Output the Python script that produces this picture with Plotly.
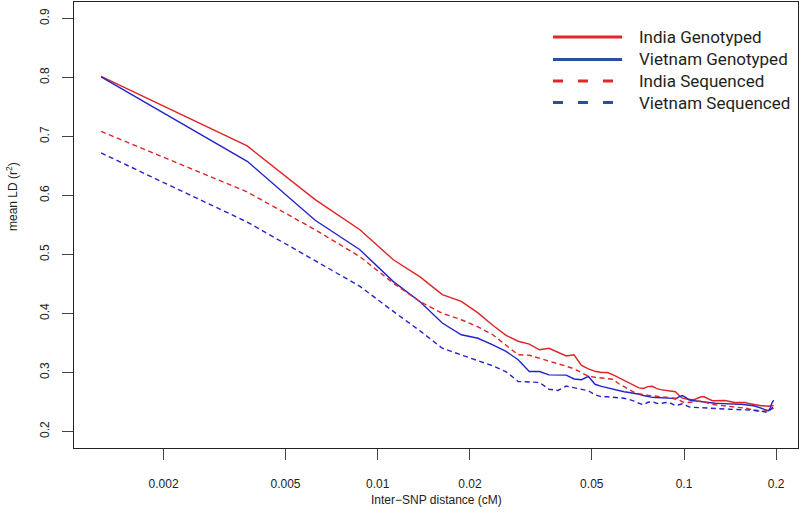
import plotly.graph_objects as go

# Inter-SNP distance bins (cM), bin midpoints
x_cM = [0.00125, 0.00375, 0.00625, 0.00875, 0.01125, 0.01375, 0.01625, 0.01875, 0.02125, 0.02375,
        0.02625, 0.02875, 0.03125, 0.03375, 0.03625, 0.03875, 0.04125, 0.04375, 0.04625, 0.04875,
        0.05125, 0.05375, 0.05625, 0.05875, 0.06125, 0.06375, 0.06625, 0.06875, 0.07125, 0.07375,
        0.07625, 0.07875, 0.08125, 0.08375, 0.08625, 0.08875, 0.09125, 0.09375, 0.09625, 0.09875,
        0.10125, 0.10375, 0.10625, 0.10875, 0.11125, 0.11375, 0.11625, 0.11875, 0.12125, 0.12375,
        0.12625, 0.12875, 0.13125, 0.13375, 0.13625, 0.13875, 0.14125, 0.14375, 0.14625, 0.14875,
        0.15125, 0.15375, 0.15625, 0.15875, 0.16125, 0.16375, 0.16625, 0.16875, 0.17125, 0.17375,
        0.17625, 0.17875, 0.18125, 0.18375, 0.18625, 0.18875, 0.19125, 0.19375, 0.19625]

india_genotyped = [0.802, 0.684, 0.593, 0.542, 0.491, 0.462, 0.432, 0.4205, 0.401, 0.380,
                   0.363, 0.353, 0.348, 0.3385, 0.341, 0.334, 0.328, 0.330, 0.312, 0.306,
                   0.302, 0.300, 0.300, 0.296, 0.291, 0.287, 0.2826, 0.2775, 0.274, 0.273,
                   0.276, 0.2766, 0.273, 0.271, 0.270, 0.269, 0.268, 0.2673, 0.2614, 0.2565,
                   0.2555, 0.2546, 0.2538, 0.2546, 0.2563, 0.2588, 0.2588, 0.2563, 0.2538, 0.2521,
                   0.2521, 0.2524, 0.2527, 0.2526, 0.2526, 0.2516, 0.2504, 0.2492, 0.2492, 0.2492,
                   0.2492, 0.2492, 0.2492, 0.2490, 0.2478, 0.2470, 0.2461, 0.2453, 0.2453, 0.2444,
                   0.2441, 0.2436, 0.2436, 0.2431, 0.2426, 0.2428, 0.2433, 0.2436, 0.2441]

vietnam_genotyped = [0.801, 0.658, 0.558, 0.508, 0.454, 0.420, 0.3838, 0.364, 0.358, 0.347,
                     0.3357, 0.3216, 0.3017, 0.3017, 0.296, 0.296, 0.2956, 0.289, 0.2877, 0.2933,
                     0.280, 0.2765, 0.2738, 0.2716, 0.269, 0.2673, 0.266, 0.265, 0.2631, 0.261,
                     0.2592, 0.2578, 0.2577, 0.2577, 0.2571, 0.2566, 0.2561, 0.2549, 0.2588, 0.2609,
                     0.258, 0.2538, 0.2524, 0.2517, 0.2507, 0.2500, 0.2497, 0.2492, 0.2487, 0.2482,
                     0.2478, 0.2476, 0.2473, 0.2470, 0.2469, 0.2467, 0.2466, 0.2465, 0.2463, 0.2462,
                     0.2461, 0.2461, 0.2458, 0.2453, 0.2450, 0.2446, 0.2441, 0.2436, 0.2427, 0.2419,
                     0.2410, 0.2402, 0.2385, 0.2368, 0.2360, 0.2351, 0.2402, 0.2487, 0.2529]

india_sequenced = [0.7087, 0.606, 0.542, 0.4963, 0.4513, 0.420, 0.4004, 0.3894, 0.3775, 0.364,
                   0.3462, 0.330, 0.3292, 0.3241, 0.3199, 0.3157, 0.3106, 0.3063, 0.3004, 0.2936,
                   0.2919, 0.2906, 0.2894, 0.2885, 0.2809, 0.2758, 0.2707, 0.2665, 0.2639, 0.2622,
                   0.2614, 0.2605, 0.2597, 0.2588, 0.2585, 0.2580, 0.2571, 0.2563, 0.2538, 0.2504,
                   0.2487, 0.2490, 0.2495, 0.2504, 0.2512, 0.2517, 0.2512, 0.2487, 0.2470, 0.2461,
                   0.2453, 0.2448, 0.2443, 0.2436, 0.2436, 0.2433, 0.2429, 0.2426, 0.2422, 0.2419,
                   0.2414, 0.2409, 0.2402, 0.2397, 0.2390, 0.2380, 0.2368, 0.2360, 0.2351, 0.2348,
                   0.2344, 0.2343, 0.2341, 0.2343, 0.2346, 0.2359, 0.2376, 0.2392, 0.2397]

vietnam_sequenced = [0.6721, 0.555, 0.4895, 0.4459, 0.4035, 0.3705, 0.3411, 0.3292, 0.3199, 0.3114,
                     0.3012, 0.2848, 0.2839, 0.2831, 0.2716, 0.2695, 0.2770, 0.2741, 0.2716, 0.2690,
                     0.2622, 0.2588, 0.2588, 0.2580, 0.2571, 0.2563, 0.2541, 0.2516, 0.2478, 0.2453,
                     0.2495, 0.2504, 0.2478, 0.2475, 0.2487, 0.2495, 0.2470, 0.2436, 0.2453, 0.2470,
                     0.2444, 0.2419, 0.2411, 0.2409, 0.2407, 0.2407, 0.2405, 0.2402, 0.2402, 0.2401,
                     0.2399, 0.2395, 0.2392, 0.2387, 0.2383, 0.2380, 0.2377, 0.2375, 0.2371, 0.2370,
                     0.2368, 0.2368, 0.2367, 0.2367, 0.2366, 0.2366, 0.2365, 0.2365, 0.2364, 0.2363,
                     0.2354, 0.2348, 0.2339, 0.2329, 0.2322, 0.2334, 0.2368, 0.2402, 0.2414]

series_names = ["India Genotyped", "Vietnam Genotyped", "India Sequenced", "Vietnam Sequenced"]
series_values = [india_genotyped, vietnam_genotyped, india_sequenced, vietnam_sequenced]

x_tickvals = [0.002, 0.005, 0.01, 0.02, 0.05, 0.1, 0.2]
x_ticktext = ["0.002", "0.005", "0.01", "0.02", "0.05", "0.1", "0.2"]
y_tickvals = [0.2, 0.3, 0.4, 0.5, 0.6, 0.7, 0.8, 0.9]
y_ticktext = ["0.2", "0.3", "0.4", "0.5", "0.6", "0.7", "0.8", "0.9"]

# styles
RED, BLUE = "#DE2424", "#2424CC"
LEG_RED, LEG_BLUE = "#E2262D", "#2B4F9F"
line_colors = [RED, BLUE, RED, BLUE]
legend_colors = [LEG_RED, LEG_BLUE, LEG_RED, LEG_BLUE]
dashes = ["solid", "solid", "5px,3.5px", "5px,3.5px"]
legend_dashes = ["solid", "solid", "10px,15px", "10px,15px"]

fig = go.Figure()
for name, vals, col, dsh in zip(series_names, series_values, line_colors, dashes):
    fig.add_trace(go.Scatter(x=x_cM, y=vals, mode="lines", name=name,
                             line=dict(color=col, width=1.4, dash=dsh),
                             showlegend=False))

# Manual legend (long line samples as in the original)
L, T, W, H = 74, 2, 724, 446
def px(xp):
    return (xp - L) / W
def py(yp):
    return (T + H - yp) / H

leg_rows = [37, 59.5, 81, 102.5]
for name, col, dsh, yr in zip(series_names, legend_colors, legend_dashes, leg_rows):
    fig.add_shape(type="line", xref="paper", yref="paper",
                  x0=px(553), x1=px(622), y0=py(yr), y1=py(yr),
                  line=dict(color=col, width=3, dash=dsh))
    fig.add_annotation(xref="paper", yref="paper", x=px(637), y=py(yr),
                       text=name, showarrow=False, xanchor="left", yanchor="middle",
                       font=dict(family="Roboto", size=17, color="#231F20"))

# Axis titles
fig.add_annotation(xref="paper", yref="paper", x=0.5, y=py(500), text="Inter\u2212SNP distance (cM)",
                   showarrow=False, xanchor="center", yanchor="middle",
                   font=dict(family="Liberation Sans", size=12, color="#222"))
fig.add_annotation(xref="paper", yref="paper", x=px(12), y=py(197), text="mean LD (r<sup>2</sup>)",
                   showarrow=False, xanchor="center", yanchor="middle", textangle=-90,
                   font=dict(family="Liberation Sans", size=12, color="#222"))

fig.update_layout(
    width=802, height=522,
    margin=dict(l=L, r=802 - L - W, t=T, b=522 - T - H, pad=0),
    paper_bgcolor="white", plot_bgcolor="white",
    font=dict(family="Liberation Sans", size=12, color="#222"),
    showlegend=False,
)
fig.update_xaxes(type="log", range=[-2.9915, -0.6278],
                 tickvals=x_tickvals, ticktext=x_ticktext,
                 showgrid=False, zeroline=False,
                 showline=True, linecolor="#222", linewidth=1.2, mirror=True,
                 ticks="outside", ticklen=11, tickwidth=1, tickcolor="#444",
                 ticklabelstandoff=13, tickfont=dict(size=12, color="#222"))
fig.update_yaxes(range=[0.172, 0.928],
                 tickvals=y_tickvals, ticktext=y_ticktext, tickangle=-90,
                 showgrid=False, zeroline=False,
                 showline=True, linecolor="#222", linewidth=1.2, mirror=True,
                 ticks="outside", ticklen=11, tickwidth=1, tickcolor="#444",
                 ticklabelstandoff=8, tickfont=dict(size=12, color="#222"))

fig.write_html("out.html", config={"displayModeBar": False},
               post_script="document.body.style.margin='0';document.body.style.overflow='hidden';")
